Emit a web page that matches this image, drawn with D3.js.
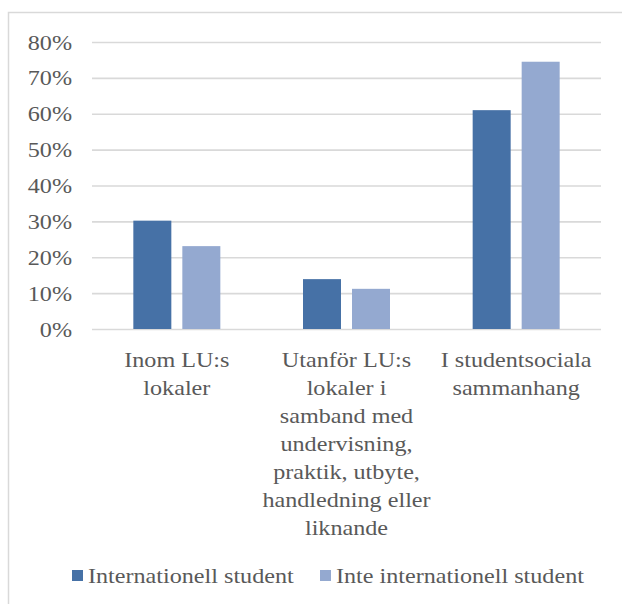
<!DOCTYPE html>
<html><head><meta charset="utf-8">
<script src="https://cdn.jsdelivr.net/npm/d3@7"></script>
<style>body{margin:0;background:#fff;} svg{display:block;} text{font-family:"Liberation Serif","Times New Roman",Times,serif;}</style>
</head><body>
<script>
const categories = [
  ["Inom LU:s", "lokaler"],
  ["Utanför LU:s", "lokaler i", "samband med", "undervisning,", "praktik, utbyte,", "handledning eller", "liknande"],
  ["I studentsociala", "sammanhang"]
];
const seriesNames = ["Internationell student", "Inte internationell student"];
const internationell = [0.302, 0.139, 0.610];
const inteInternationell = [0.231, 0.112, 0.745];
const yTicks = [0, 0.1, 0.2, 0.3, 0.4, 0.5, 0.6, 0.7, 0.8];
const colors = ["#4671a6", "#94a9d0"];

(function () {
const W = 622, H = 604;
const SX = 1.15;
const svg = d3.select("body").append("svg").attr("width", W).attr("height", H);
svg.append("rect").attr("width", W).attr("height", H).attr("fill", "#fff");
svg.append("path").attr("d", "M8.5,604 V12.5 H622").attr("fill", "none").attr("stroke", "#d9d9d9").attr("stroke-width", 1.5);

const pL = 92, pR = 601, pT = 42, pB = 329;
const y = d3.scaleLinear().domain([0, 0.8]).range([pB, pT]);
const x0 = d3.scaleBand().domain(d3.range(categories.length)).range([pL, pR]).padding(0);
const inner = 87;
const x1 = d3.scaleBand().domain([0, 1])
  .range([(x0.bandwidth() - inner) / 2, (x0.bandwidth() + inner) / 2])
  .paddingInner(11 / 49).paddingOuter(0);

const font = '"Liberation Serif","Times New Roman",Times,serif';
const txtColor = "#595959";

const yAxis = d3.axisLeft(y).tickValues(yTicks).tickFormat(d3.format(".0%")).tickSize(-(pR - pL)).tickPadding(0);
const gy = svg.append("g").attr("transform", `translate(${pL},0)`).call(yAxis);
gy.attr("font-family", null).attr("font-size", null);
gy.select(".domain").remove();
gy.selectAll(".tick line").attr("stroke", "#d9d9d9").attr("stroke-width", 1.6);
gy.selectAll(".tick text")
  .attr("x", null).attr("dy", null)
  .attr("transform", `translate(-20,7) scale(${SX},1)`)
  .style("font-family", font).style("font-size", "21px").attr("fill", txtColor).attr("text-anchor", "end");

const data = [internationell, inteInternationell];
const groups = svg.append("g").selectAll("g").data(categories.map((c, i) => i)).join("g")
  .attr("transform", i => `translate(${x0(i)},0)`);
groups.selectAll("rect").data(i => [0, 1].map(s => ({s, v: data[s][i]}))).join("rect")
  .attr("x", d => x1(d.s)).attr("width", x1.bandwidth())
  .attr("y", d => y(d.v)).attr("height", d => y(0) - y(d.v))
  .attr("fill", d => colors[d.s]);

categories.forEach((lines, i) => {
  const cx = x0(i) + x0.bandwidth() / 2;
  lines.forEach((ln, j) => {
    svg.append("text").text(ln)
      .attr("transform", `translate(${cx},${367 + j * 28}) scale(${SX},1)`)
      .attr("text-anchor", "middle").style("font-family", font).style("font-size", "21px").attr("fill", txtColor);
  });
});

const legY = 583;
const legX = [72, 320];
seriesNames.forEach((name, i) => {
  svg.append("rect").attr("x", legX[i]).attr("y", legY - 13).attr("width", 11).attr("height", 11).attr("fill", colors[i]);
  svg.append("text").text(name)
    .attr("transform", `translate(${legX[i] + 16},${legY}) scale(${SX},1)`)
    .style("font-family", font).style("font-size", "21px").attr("fill", txtColor);
});
})();
</script>
</body></html>
